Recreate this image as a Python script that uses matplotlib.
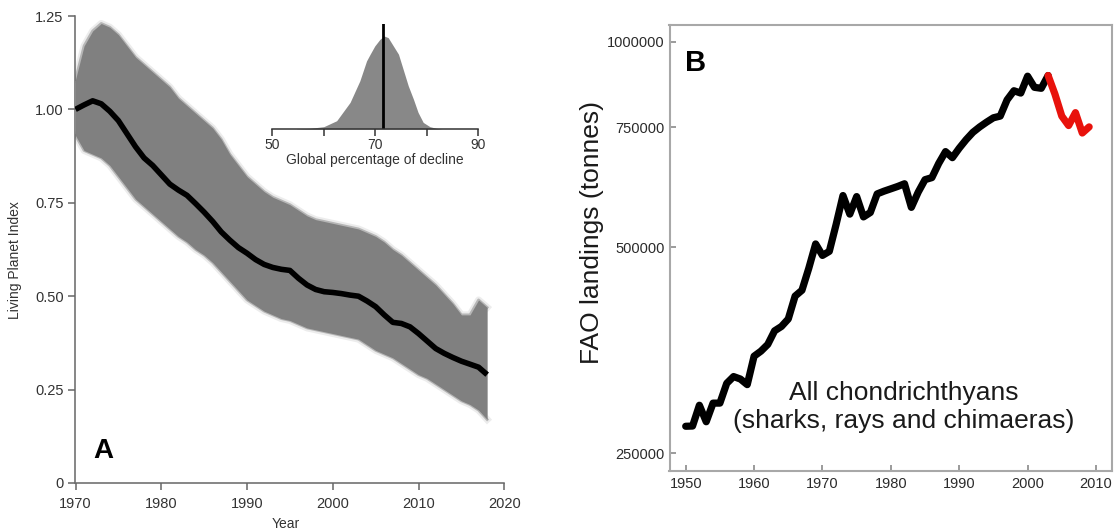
import matplotlib
matplotlib.use("Agg")
import matplotlib.pyplot as plt
from matplotlib.ticker import FixedLocator, NullLocator, FixedFormatter

plt.rcParams['font.family'] = ['Liberation Sans', 'DejaVu Sans']

# ---- Panel A: Living Planet Index, 1970-2018 ----
lpi_years = list(range(1970, 2019))
lpi_mean = [1.00, 1.012, 1.023, 1.015, 0.995, 0.97, 0.935, 0.90, 0.87, 0.85,
            0.825, 0.80, 0.784, 0.77, 0.748, 0.725, 0.70, 0.672, 0.65, 0.63,
            0.615, 0.598, 0.585, 0.577, 0.572, 0.569, 0.548, 0.53, 0.518, 0.512,
            0.51, 0.507, 0.503, 0.50, 0.487, 0.472, 0.45, 0.43, 0.427, 0.418,
            0.40, 0.38, 0.36, 0.347, 0.336, 0.326, 0.318, 0.31, 0.29]
lpi_upper = [1.08, 1.17, 1.21, 1.23, 1.22, 1.20, 1.17, 1.14, 1.12, 1.10,
             1.08, 1.06, 1.03, 1.01, 0.99, 0.97, 0.95, 0.92, 0.88, 0.85,
             0.82, 0.80, 0.78, 0.765, 0.755, 0.745, 0.73, 0.715, 0.705, 0.70,
             0.695, 0.69, 0.685, 0.68, 0.67, 0.66, 0.645, 0.625, 0.61, 0.59,
             0.57, 0.55, 0.53, 0.505, 0.48, 0.45, 0.45, 0.49, 0.47]
lpi_lower = [0.93, 0.89, 0.88, 0.87, 0.85, 0.82, 0.79, 0.76, 0.74, 0.72,
             0.70, 0.68, 0.66, 0.645, 0.625, 0.61, 0.59, 0.565, 0.54, 0.515,
             0.49, 0.475, 0.46, 0.45, 0.44, 0.435, 0.425, 0.415, 0.41, 0.405,
             0.40, 0.395, 0.39, 0.385, 0.37, 0.355, 0.345, 0.335, 0.32, 0.305,
             0.29, 0.28, 0.265, 0.25, 0.235, 0.22, 0.21, 0.195, 0.17]
lpi_yticks = [0, 0.25, 0.5, 0.75, 1.0, 1.25]
lpi_yticklabels = ['0', '0.25', '0.50', '0.75', '1.00', '1.25']
lpi_xticks = [1970, 1980, 1990, 2000, 2010, 2020]

# distribution of the global percentage of decline (inset)
decline_pct = [54.7, 57.3, 60.0, 62.5, 65.1, 67.0, 68.3, 69.0, 69.9, 70.9, 71.7,
               72.5, 73.5, 74.5, 75.4, 76.4, 77.4, 78.3, 79.3, 80.6, 81.9, 83.0]
decline_density = [0.002, 0.007, 0.025, 0.089, 0.286, 0.518, 0.732, 0.804, 0.893,
                   0.964, 1.0, 0.982, 0.893, 0.804, 0.643, 0.464, 0.321, 0.179,
                   0.071, 0.025, 0.007, 0.0]
decline_mean = 71.4
decline_ticks = [50, 60, 70, 80, 90]
decline_ticklabels = ['50', '', '70', '', '90']

# ---- Panel B: FAO chondrichthyan landings (tonnes) ----
fao_years = list(range(1950, 2010))
fao_landings = [273800, 274000, 293900, 278000, 296000, 296000, 316400, 323700, 321000, 315000,
                346700, 352600, 360700, 377600, 383200, 393000, 424500, 432900, 466200, 506000,
                486800, 493500, 540500, 595600, 559400, 593500, 554200, 562500, 598900, 604400,
                609200, 614100, 619700, 572300, 602400, 628300, 632600, 663600, 690600, 676600,
                698500, 718700, 736900, 750500, 762600, 773900, 778300, 822000, 847700, 841000,
                890300, 857500, 854700, 892300, 838100, 778300, 753900, 787400, 735200, 750500]
fao_split_year = 2003
fao_yticks = [250000, 500000, 750000, 1000000]
fao_xticks = [1950, 1960, 1970, 1980, 1990, 2000, 2010]

W, H = 1117, 532
fig = plt.figure(figsize=(W / 100, H / 100), dpi=100)
fig.patch.set_facecolor('white')


def px_axes(left, top, right, bottom):
    return [left / W, 1 - bottom / H, (right - left) / W, (bottom - top) / H]


# ---------------- Panel A ----------------
axA = fig.add_axes(px_axes(75.5, 16, 504.3, 483))
band = '#808080'
axA.fill_between(lpi_years, lpi_lower, lpi_upper, color=band, lw=0, zorder=1)
for edge in (lpi_upper, lpi_lower):
    axA.plot(lpi_years, edge, color='#d6d6d6', lw=5, alpha=0.45, zorder=0.5,
             solid_joinstyle='round')
    axA.plot(lpi_years, edge, color='#a9a9a9', lw=2, alpha=0.8, zorder=0.8,
             solid_joinstyle='round')
axA.plot(lpi_years, lpi_mean, color='black', lw=4, zorder=3,
         solid_joinstyle='round', solid_capstyle='butt')

axA.set_xlim(1970, 2020)
axA.set_ylim(0, 1.25)
axA.xaxis.set_major_locator(FixedLocator(lpi_xticks))
axA.yaxis.set_major_locator(FixedLocator(lpi_yticks))
axA.yaxis.set_major_formatter(FixedFormatter(lpi_yticklabels))
for s in ('top', 'right'):
    axA.spines[s].set_visible(False)
for s in ('left', 'bottom'):
    axA.spines[s].set_color('#666666')
    axA.spines[s].set_linewidth(1.1)
axA.tick_params(axis='both', direction='out', length=5, width=1.1,
                color='#666666', labelcolor='#333333', labelsize=10.5)
axA.tick_params(axis='x', pad=5)
axA.tick_params(axis='y', pad=3.5)
axA.set_xlabel('Year', fontsize=10, color='#333333')
axA.xaxis.set_label_coords(0.49, (483 - 524) / 467)
axA.xaxis.label.set_va('center')
axA.set_ylabel('Living Planet Index', fontsize=10, color='#333333')
axA.yaxis.set_label_coords((15 - 75.5) / 428.8, (483 - 260) / 467)
axA.yaxis.label.set_va('center')
axA.text((103.7 - 75.5) / 428.8, (483 - 458.3) / 467, 'A', transform=axA.transAxes,
         fontsize=20, fontweight='bold', ha='center', va='baseline')

# inset: distribution of percentage decline
axI = fig.add_axes(px_axes(272.3, 24, 478.3, 129))
axI.patch.set_alpha(0)
axI.fill_between(decline_pct, 0, decline_density, color='#888888', lw=0)
axI.set_xlim(50, 90)
axI.set_ylim(0, 1 / 0.886)
axI.axvline(decline_mean, color='black', lw=2)
for s in ('top', 'right', 'left'):
    axI.spines[s].set_visible(False)
axI.spines['bottom'].set_color('#333333')
axI.spines['bottom'].set_linewidth(1.1)
axI.set_yticks([])
axI.xaxis.set_major_locator(FixedLocator(decline_ticks))
axI.xaxis.set_major_formatter(FixedFormatter(decline_ticklabels))
axI.tick_params(axis='x', direction='out', length=5, width=1.1, color='#333333',
                labelcolor='#333333', labelsize=10, pad=1.5)
axI.set_xlabel('Global percentage of decline', fontsize=10, color='#333333', labelpad=1)

# ---------------- Panel B ----------------
axB = fig.add_axes(px_axes(669.5, 25, 1111.7, 470.5))
axB.set_yscale('log')
split = fao_years.index(fao_split_year)
axB.plot(fao_years[:split + 1], fao_landings[:split + 1], color='black', lw=5.2,
         solid_joinstyle='round', solid_capstyle='round', zorder=3)
axB.plot(fao_years[split:], fao_landings[split:], color='#e8120c', lw=5.2,
         solid_joinstyle='round', solid_capstyle='round', zorder=3)
axB.set_xlim(1947.63, 2012.3)
axB.set_ylim(235900, 1057800)
axB.yaxis.set_major_locator(FixedLocator(fao_yticks))
axB.yaxis.set_major_formatter(FixedFormatter([str(v) for v in fao_yticks]))
axB.yaxis.set_minor_locator(NullLocator())
axB.xaxis.set_major_locator(FixedLocator(fao_xticks))
for s in axB.spines.values():
    s.set_color('#a8a8a8')
    s.set_linewidth(1.5)
axB.tick_params(axis='both', direction='in', length=4, width=1.2, color='#8a8a8a',
                labelcolor='#2b2b2b', labelsize=10.5)
axB.tick_params(axis='y', pad=3.5)
axB.tick_params(axis='x', pad=5)
axB.set_ylabel('FAO landings (tonnes)', fontsize=19, color='#1a1a1a')
axB.yaxis.set_label_coords((591.7 - 669.5) / 442.2, (470.5 - 232) / 445.5)
axB.yaxis.label.set_va('center')
axB.text((903.6 - 669.5) / 442.2, (470.5 - 407) / 445.5,
         'All chondrichthyans\n(sharks, rays and chimaeras)',
         transform=axB.transAxes, fontsize=19, color='#1a1a1a',
         ha='center', va='center', multialignment='center', linespacing=1.2)
axB.text((695.7 - 669.5) / 442.2, (470.5 - 71) / 445.5, 'B', transform=axB.transAxes,
         fontsize=21, fontweight='bold', ha='center', va='baseline')

fig.savefig('out.png', dpi=100, facecolor='white')
